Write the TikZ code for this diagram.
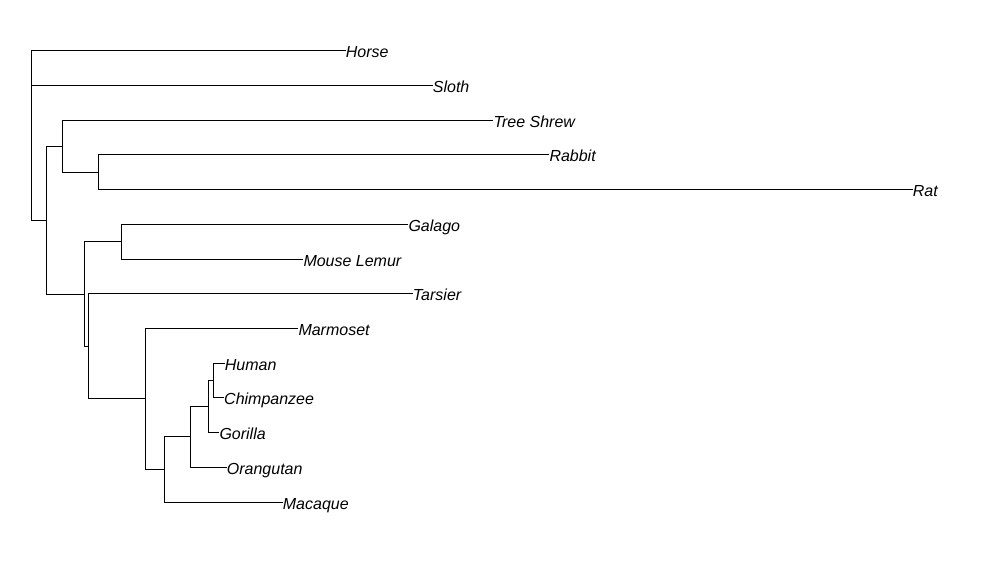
\documentclass[tikz,border=0pt]{standalone}
\usepackage{fontspec}
\setmainfont{Liberation Sans}
\begin{document}
\begin{tikzpicture}[x=1pt,y=-1pt,
  branch/.style={draw=black,line width=1pt},
  taxon/.style={anchor=base west,inner sep=0pt,yshift=-7pt,
    font=\fontsize{16}{19}\selectfont\itshape}]
\useasboundingbox (0,0) rectangle (983,573);
% internal nodes of the tree
\coordinate (root) at (31.3,135);
\coordinate (n1)  at (46.3,220);
\coordinate (n2)  at (62.3,146.3);
\coordinate (n3)  at (98.3,172.3);
\coordinate (n5)  at (84.2,294.3);
\coordinate (n6)  at (121.3,241.3);
\coordinate (n7)  at (88.3,346);
\coordinate (n8)  at (145.3,398);
\coordinate (n9)  at (164.3,469.3);
\coordinate (n10) at (190.3,436);
\coordinate (n11) at (208.3,406.3);
\coordinate (n12) at (213.3,380);
% tips
\coordinate (horse)  at (345.7,50.3);
\coordinate (sloth)  at (432.7,85);
\coordinate (shrew)  at (493.3,120);
\coordinate (rabbit) at (549.3,154.3);
\coordinate (rat)    at (912.7,189.3);
\coordinate (galago) at (408.3,224.3);
\coordinate (lemur)  at (303.3,259.3);
\coordinate (tarsier) at (412.7,293.3);
\coordinate (marmoset) at (298.3,328.3);
\coordinate (human)  at (224.7,363.7);
\coordinate (chimp)  at (224.0,397.3);
\coordinate (gorilla) at (219.3,432.3);
\coordinate (orang)  at (226.7,467);
\coordinate (macaque) at (282.7,502);
% tip labels
\node[taxon] (lhorse) at (horse) {Horse};
\node[taxon] (lsloth) at (sloth) {Sloth};
\node[taxon] (lshrew) at (shrew) {Tree Shrew};
\node[taxon] (lrabbit) at (rabbit) {Rabbit};
\node[taxon] (lrat) at (rat) {Rat};
\node[taxon] (lgalago) at (galago) {Galago};
\node[taxon] (llemur) at (lemur) {Mouse Lemur};
\node[taxon] (ltarsier) at (tarsier) {Tarsier};
\node[taxon] (lmarmoset) at (marmoset) {Marmoset};
\node[taxon] (lhuman) at (human) {Human};
\node[taxon] (lchimp) at (chimp) {Chimpanzee};
\node[taxon] (lgorilla) at (gorilla) {Gorilla};
\node[taxon] (lorang) at (orang) {Orangutan};
\node[taxon] (lmacaque) at (macaque) {Macaque};
% branches (rectangular cladogram)
\draw[branch] (root) |- (horse);
\draw[branch] (root) |- (sloth);
\draw[branch] (root) |- (n1);
\draw[branch] (n1) |- (n2);
\draw[branch] (n1) |- (n5);
\draw[branch] (n2) |- (shrew);
\draw[branch] (n2) |- (n3);
\draw[branch] (n3) |- (rabbit);
\draw[branch] (n3) |- (rat);
\draw[branch] (n5) |- (n6);
\draw[branch] (n5) |- (n7);
\draw[branch] (n6) |- (galago);
\draw[branch] (n6) |- (lemur);
\draw[branch] (n7) |- (tarsier);
\draw[branch] (n7) |- (n8);
\draw[branch] (n8) |- (marmoset);
\draw[branch] (n8) |- (n9);
\draw[branch] (n9) |- (n10);
\draw[branch] (n9) |- (macaque);
\draw[branch] (n10) |- (n11);
\draw[branch] (n10) |- (orang);
\draw[branch] (n11) |- (n12);
\draw[branch] (n11) |- (gorilla);
\draw[branch] (n12) |- (human);
\draw[branch] (n12) |- (chimp);
\end{tikzpicture}
\end{document}
